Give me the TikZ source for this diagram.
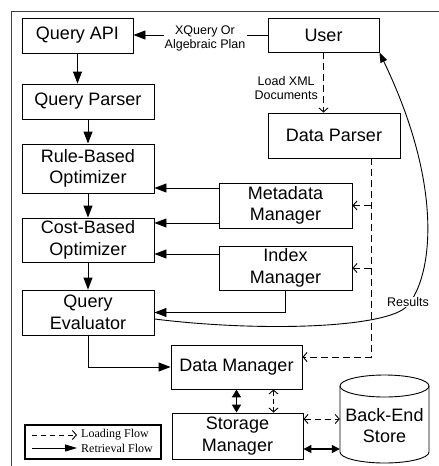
\documentclass[tikz,border=0pt]{standalone}
\usepackage{fontspec}
\setmainfont{Liberation Sans}
\newfontfamily\legendfont{Liberation Serif}
\usetikzlibrary{arrows.meta,calc}
\begin{document}
\begin{tikzpicture}[x=1pt,y=-1pt,
  box/.style={draw, line width=0.9pt, fill=white, align=center, inner sep=0pt,
    font=\fontsize{18}{21.5}\selectfont},
  small/.style={font=\fontsize{12.5}{13.5}\selectfont, align=center, inner sep=1pt},
  ret/.style={line width=0.9pt, -{Triangle[length=12pt,width=9pt]}},
  load/.style={line width=0.9pt, dash pattern=on 7pt off 4pt,
    -{Straight Barb[length=4pt,width=9pt]}},
  loadboth/.style={line width=0.9pt, dash pattern=on 6pt off 4pt,
    {Straight Barb[length=4pt,width=9pt]}-{Straight Barb[length=4pt,width=9pt]}},
  retboth/.style={line width=1.3pt,
    {Triangle[length=8pt,width=8pt]}-{Triangle[length=8pt,width=8pt]}}]
\useasboundingbox (0,0) rectangle (439,466);

% outer frame (open towards the right and bottom)
\draw[line width=0.9pt, black!75] (11,466) -- (11,11) -- (439,11);

% query processing pipeline
\node[box, minimum width=111pt, minimum height=35pt] (qapi) at (77.5,35.5) {Query API};
\node[box, minimum width=132pt, minimum height=35pt] (qparser) at (88,101.5) {Query Parser};
\node[box, minimum width=132pt, minimum height=49pt] (rbo) at (88,168.5) {Rule-Based\\Optimizer};
\node[box, minimum width=132pt, minimum height=44pt] (cbo) at (88,240) {Cost-Based\\Optimizer};
\node[box, minimum width=132pt, minimum height=45pt] (qe) at (88,312.5) {Query\\Evaluator};

% user side and managers
\node[box, minimum width=111pt, minimum height=34pt] (user) at (323.5,35) {User};
\node[box, minimum width=132pt, minimum height=45pt] (dparser) at (334,135.5) {Data Parser};
\node[box, minimum width=133pt, minimum height=45pt] (meta) at (285.5,205.5) {Metadata\\Manager};
\node[box, minimum width=133pt, minimum height=44pt] (index) at (285.5,268) {Index\\Manager};
\node[box, minimum width=131pt, minimum height=44pt] (dm) at (236.5,367) {Data Manager};
\node[box, minimum width=131pt, minimum height=46pt] (sm) at (237.5,436) {Storage\\Manager};

% back-end store cylinder
\node[minimum width=89pt, minimum height=88pt, inner sep=0pt] (bes) at (384.5,419) {};
\draw[line width=0.9pt, fill=white] (340,386) -- (340,452)
  arc[start angle=180, end angle=360, x radius=44.5pt, y radius=11pt]
  -- (429,386)
  arc[start angle=0, end angle=180, x radius=44.5pt, y radius=11pt] -- cycle;
\draw[line width=0.9pt] (340,386)
  arc[start angle=180, end angle=360, x radius=44.5pt, y radius=11pt];
\node[font=\fontsize{18}{21.5}\selectfont, align=center, inner sep=0pt] (bestext) at (384.5,425.5) {Back-End\\Store};

% attachment points on the box sides
\coordinate (m1) at ([yshift=17.5pt]meta.west);
\coordinate (m2) at ([yshift=-17.5pt]meta.west);
\coordinate (i1) at ([yshift=14pt]index.west);
\coordinate (q1) at ([yshift=-6.5pt]qe.east);
\coordinate (d1) at ([yshift=10pt]dm.east);
\coordinate (tk) at ([xshift=37pt]dparser.south);
\coordinate (s1) at ([yshift=17pt]sm.east);
\coordinate (s2) at ([yshift=-13pt]sm.east);
\coordinate (v1) at ([xshift=37pt]dm.south);

% user request to the query API
\node[small] (xq) at (205,38.5) {XQuery Or\\Algebraic Plan};
\draw[line width=0.9pt] (user.west) -- (xq.east |- user.west);
\draw[ret] (xq.west |- user.west) -- (qapi.east |- user.west);

% pipeline flow
\draw[ret] (qapi.south) -- (qapi.south |- qparser.north);
\draw[ret] (qparser.south) -- (rbo.north);
\draw[ret] (rbo.south) -- (cbo.north);
\draw[ret] (cbo.south) -- (qe.north);

% managers feeding the optimizers and evaluator
\draw[ret] (m1) -- (rbo.east |- m1);
\draw[ret] (m2) -- (cbo.east |- m2);
\draw[ret] (i1) -- (cbo.east |- i1);
\draw[ret] (index.south) |- (qe.east);
\draw[ret] (qe.south) |- (dm.west);

% loading flow
\node[small, anchor=east, font=\fontsize{12.5}{14}\selectfont] (lx) at (319,88) {Load XML\\Documents};
\draw[load] (user.south) -- (user.south |- dparser.north);
\draw[load] (tk) |- (d1);
\draw[load] (meta.east -| tk) -- (meta.east);
\draw[load] (index.east -| tk) -- (index.east);

% results back to the user
\draw[line width=0.9pt, -{Triangle[length=10pt,width=7pt]}]
  (q1) .. controls (260,332) and (380,328) .. (405,308)
  .. controls (430,285) and (448,195) .. (user.south east);
\node[small, fill=white, inner sep=0.5pt] (res) at (408,302) {Results};

% storage layer
\draw[line width=1.8pt, {Triangle[length=8pt,width=9pt]}-{Triangle[length=8pt,width=9pt]}]
  (dm.south) -- (dm.south |- sm.north);
\draw[loadboth, dash pattern=on 5pt off 3pt] (v1) -- (v1 |- sm.north);
\draw[loadboth] (s1) -- (bes.west |- s1);
\draw[retboth] (s2) -- (bes.west |- s2);

% legend
\node[draw, line width=1.3pt, minimum width=136pt, minimum height=34pt, inner sep=0pt] (legend) at (93,442) {};
\coordinate (la1) at (32,435);
\coordinate (la2) at (77,435);
\coordinate (lb1) at (32,448);
\coordinate (lb2) at (77,448);
\draw[line width=0.9pt, dash pattern=on 5pt off 4pt, -{Straight Barb[length=4pt,width=9pt]}] (la1) -- (la2);
\draw[line width=0.9pt, -{Triangle[length=12pt,width=7pt]}] (lb1) -- (lb2);
\node[anchor=west, inner sep=1pt, font=\legendfont\fontsize{12}{14}\selectfont] (lt1) at (80,435) {Loading Flow};
\node[anchor=west, inner sep=1pt, font=\legendfont\fontsize{12}{14}\selectfont] (lt2) at (80,448) {Retrieval Flow};
\end{tikzpicture}
\end{document}
